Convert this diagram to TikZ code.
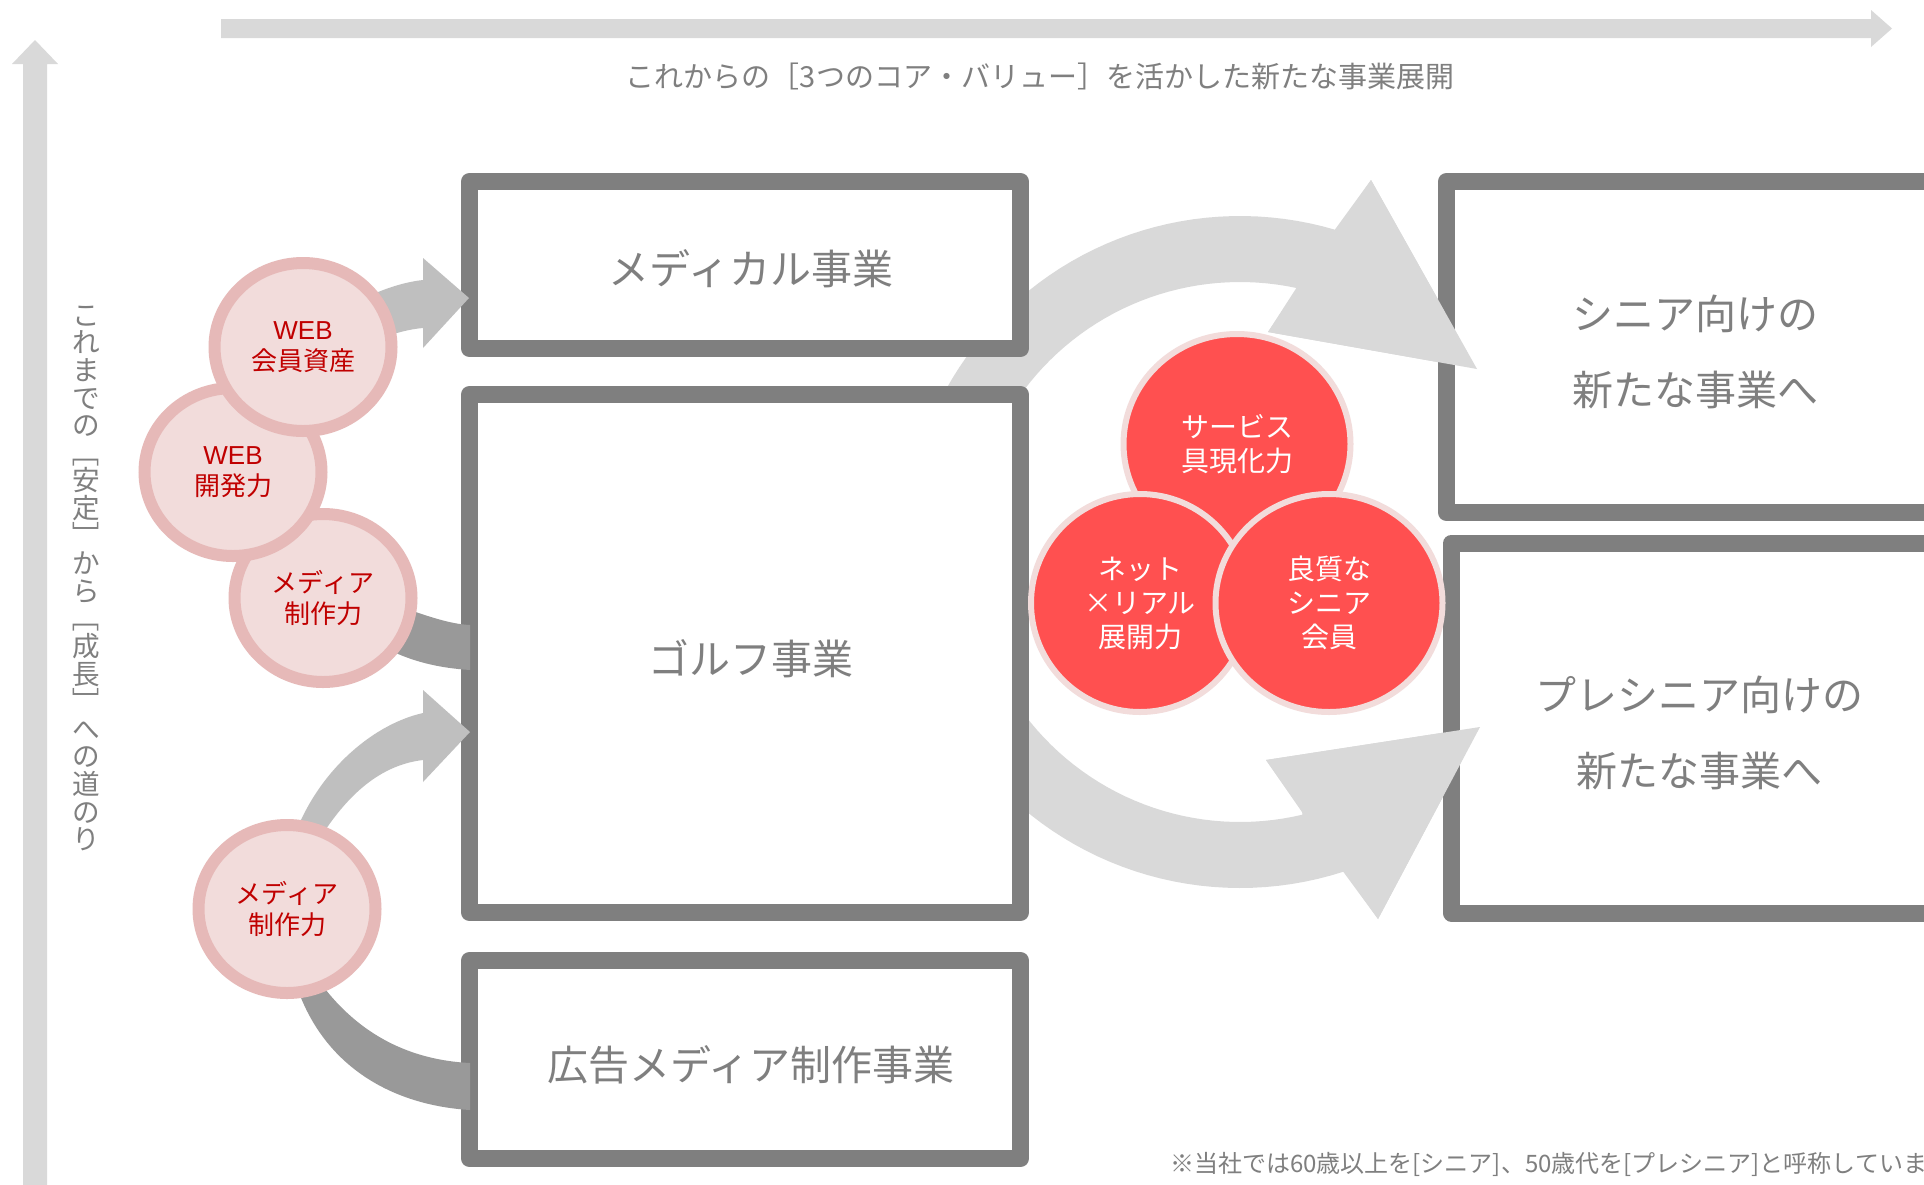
\documentclass[tikz,border=0pt]{standalone}
\usepackage{fontspec}
\usepackage{graphicx}
\setmainfont{Noto Sans CJK JP}
\newfontfamily\latinf{Liberation Sans}
\usetikzlibrary{shapes.geometric}
\definecolor{axisgray}{HTML}{D9D9D9}
\definecolor{bigarrowgray}{HTML}{D9D9D9}
\definecolor{lightgray}{HTML}{BFBFBF}
\definecolor{darkgray}{HTML}{999999}
\definecolor{boxgray}{HTML}{7F7F7F}
\definecolor{txtgray}{HTML}{7F7F7F}
\definecolor{pinkfill}{HTML}{F2DCDB}
\definecolor{pinkline}{HTML}{E6B9B8}
\definecolor{darkred}{HTML}{C00000}
\definecolor{corered}{HTML}{FF5050}
\newcommand{\fsz}[2]{\fontsize{#1}{#2}\selectfont}
\newcommand{\vch}[1]{\rotatebox{90}{\makebox[1em]{\rule[-0.12em]{0pt}{1em}#1}}}
\newcommand{\vbr}[1]{\raisebox{0.12em}{#1}}
\begin{document}
\begin{tikzpicture}[x=1pt, y=-1pt,
  bizbox/.style={rectangle, draw=boxgray, line width=17pt, fill=white, inner sep=0pt, line join=round},
  boxtext/.style={text=txtgray, font=\fsz{41}{76}, align=center, inner sep=0pt},
  pinkc/.style={ellipse, draw=pinkline, fill=pinkfill, line width=12pt, inner sep=0pt,
    minimum width=177pt, minimum height=168pt, text=darkred, font=\fsz{26}{31}, align=center},
  redc/.style={ellipse, draw=pinkfill, fill=corered, line width=6pt, inner sep=0pt,
    text=white, font=\fsz{28}{34}, align=center},
  bigarrow/.style={fill=bigarrowgray},
  lightarrow/.style={fill=lightgray},
  darkband/.style={fill=darkgray},
  axisarrow/.style={fill=axisgray}]
\useasboundingbox (0,0) rectangle (1924,1184);
\fill[white] (0,0) rectangle (1924,1184);

% axes
\fill[axisarrow] (221,19) -- (1871,19) -- (1871,10) -- (1892,28.5) -- (1871,47) -- (1871,38) -- (221,38) -- cycle;
\fill[axisarrow] (23,1190) -- (23,64) -- (12,64) -- (35,40) -- (58,64) -- (47,64) -- (47,1190) -- cycle;
\node[font=\fsz{29}{29}, text=txtgray, inner sep=0pt] (toptext) at (1040,76) {これからの［3つのコア・バリュー］を活かした新たな事業展開};
\node[rotate=-90, font=\fsz{27.6}{27.6}, text=txtgray, inner sep=0pt] (vtext) at (86,577) {\vch{こ}\vch{れ}\vch{ま}\vch{で}\vch{の}\vbr{［}\vch{安}\vch{定}\vbr{］}\vch{か}\vch{ら}\vbr{［}\vch{成}\vch{長}\vbr{］}\vch{へ}\vch{の}\vch{道}\vch{の}\vch{り}};

% big curved arrows (shafts)
\fill[bigarrow] plot[domain=-160:-73.6, samples=40] ({1240+336*cos(\x)},{552+336*sin(\x)})
  -- (1371,180) -- (1477,369) -- (1268,332) -- (1297,287)
  -- plot[domain=-77.9:-160, samples=40] ({1240+270*cos(\x)},{552+270*sin(\x)}) -- cycle;
\fill[bigarrow] plot[domain=160:72.1, samples=40] ({1240+336*cos(\x)},{552+336*sin(\x)})
  -- (1378,919) -- (1480,727) -- (1266,760) -- (1302,812)
  -- plot[domain=76.6:160, samples=40] ({1240+270*cos(\x)},{552+270*sin(\x)}) -- cycle;

% boxes
\node[bizbox, minimum width=551pt, minimum height=167pt] (medical) at (745,265) {};
\node[bizbox, minimum width=551pt, minimum height=518pt] (golf) at (745,653.5) {};
\node[bizbox, minimum width=551pt, minimum height=198pt] (ad) at (745,1059.5) {};
\node[bizbox, minimum width=497pt, minimum height=331pt] (senior) at (1695,347) {};
\node[bizbox, minimum width=495pt, minimum height=370pt] (presenior) at (1699,728) {};
\node[boxtext] (medicaltext) at (751,269) {メディカル事業};
\node[boxtext] (golftext) at (751,659) {ゴルフ事業};
\node[boxtext] (adtext) at (751,1065) {広告メディア制作事業};
\node[boxtext] (seniortext) at (1695,352) {シニア向けの\\新たな事業へ};
\node[boxtext] (preseniortext) at (1699,733) {プレシニア向けの\\新たな事業へ};

% big arrow heads over the boxes
\fill[bigarrow] (1371,180) -- (1477,369) -- (1268,332) -- cycle;
\fill[bigarrow] (1378,919) -- (1480,727) -- (1266,760) -- cycle;

% small connectors
\fill[lightarrow] (360,300) .. controls (385,288) and (405,282) .. (423,280) -- (423,258) -- (469,298) -- (423,348) -- (423,328) .. controls (410,329) and (395,333) .. (375,340) -- cycle;
\fill[darkband] (395,605) .. controls (430,617) and (450,624) .. (470,625) -- (470,670) .. controls (440,668) and (410,662) .. (380,645) -- cycle;
\fill[lightarrow] (293,840) .. controls (315,775) and (370,725) .. (423,713) -- (423,690) -- (470,732) -- (423,782) -- (423,760) .. controls (380,765) and (348,795) .. (322,835) -- cycle;
\fill[darkband] (298,990) .. controls (325,1065) and (390,1105) .. (470,1110) -- (470,1063) .. controls (410,1060) and (360,1035) .. (322,985) -- cycle;

% pink circles
\node[pinkc] (media1) at (323,598) {メディア\\制作力};
\node[pinkc] (webdev) at (233,472) {{\latinf WEB}\\開発力};
\node[pinkc] (webmem) at (303,347) {{\latinf WEB}\\会員資産};
\node[pinkc] (media2) at (287,909) {メディア\\制作力};

% red circles
\node[redc, minimum width=227pt, minimum height=220pt] (service) at (1237,444) {サービス\\具現化力};
\node[redc, minimum width=218pt, minimum height=218pt] (net) at (1140,603) {ネット\\×リアル\\展開力};
\node[redc, minimum width=227pt, minimum height=218pt] (quality) at (1329,603) {良質な\\シニア\\会員};

% footnote
\node[anchor=west, font=\fsz{24}{24}, text=txtgray, inner sep=0pt] (note) at (1170,1164) {※当社では60歳以上を[シニア]、50歳代を[プレシニア]と呼称しています。};
\end{tikzpicture}
\end{document}
